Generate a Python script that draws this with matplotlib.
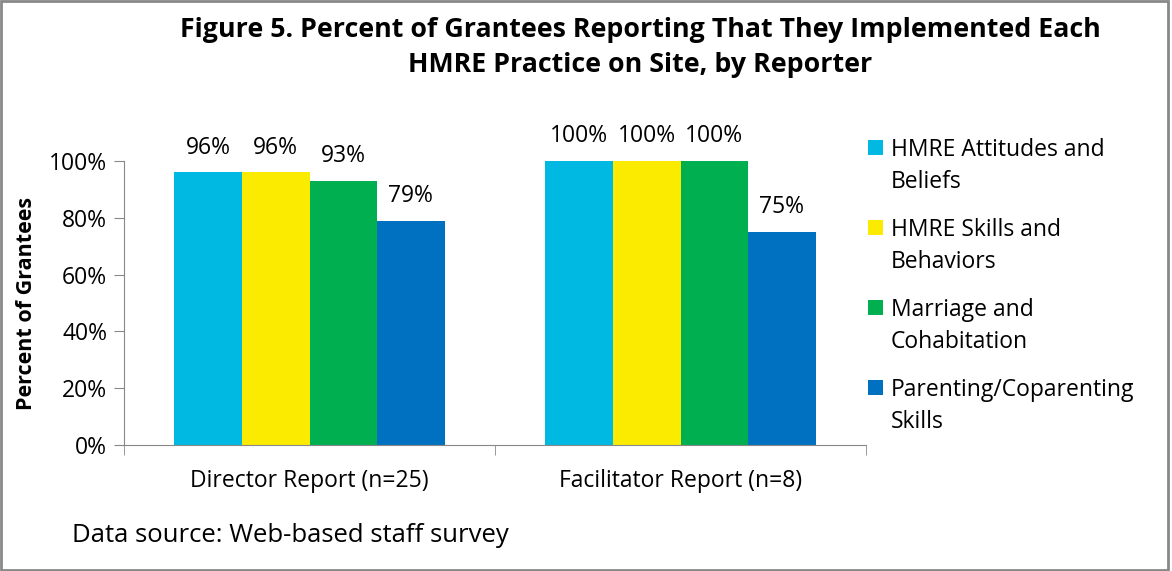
import matplotlib.pyplot as plt
import numpy as np
from matplotlib.patches import Rectangle

plt.rcParams['font.family'] = ['Open Sans', 'DejaVu Sans']

# data
reporters = ['Director Report (n=25)', 'Facilitator Report (n=8)']
practices = ['HMRE Attitudes and\nBeliefs',
             'HMRE Skills and\nBehaviors',
             'Marriage and\nCohabitation',
             'Parenting/Coparenting\nSkills']
colors = ['#00B9E2', '#FAEB00', '#00B050', '#0070C0']
values = [[96, 100],
          [96, 100],
          [93, 100],
          [79, 75]]

W, H = 1172, 571
fig = plt.figure(figsize=(W/100, H/100), dpi=100)
ax = fig.add_axes([124/W, 1-445/H, (866-124)/W, (445-161)/H])

x = np.arange(len(reporters))
width = 0.182
for i, (name, vals) in enumerate(zip(practices, values)):
    pos = x + (i - 1.5) * width
    bars = ax.bar(pos, vals, width, color=colors[i], label=name)
    for b, v in zip(bars, vals):
        ax.text(b.get_x() + b.get_width()/2, v + 4.5, '%d%%' % v,
                ha='center', va='bottom', fontsize=16.5)

ax.set_xlim(-0.5, 1.5)
ax.set_ylim(0, 100)
ax.set_yticks(np.arange(0, 101, 20))
ax.set_yticklabels(['%d%%' % t for t in range(0, 101, 20)], fontsize=16.5)
ax.set_xticks(x)
ax.set_xticklabels(reporters, fontsize=16.5)
ax.set_xticks([-0.5, 0.5, 1.5], minor=True)
ax.tick_params(axis='x', which='major', length=0, pad=17)
ax.tick_params(axis='x', which='minor', length=7, color='#888888', direction='out')
ax.tick_params(axis='y', length=7, color='#888888', direction='out', pad=5)
for s in ['top', 'right']:
    ax.spines[s].set_visible(False)
for s in ['left', 'bottom']:
    ax.spines[s].set_color('#888888')
ax.set_ylabel('Percent of Grantees', fontsize=15.5, fontweight='bold', labelpad=9)

# legend: square marker level with the first line of each label
for i, name in enumerate(practices):
    yc = 148 + 80*i
    fig.patches.append(Rectangle((868/W, 1-(yc+7)/H), 15/W, 15/H,
                                 transform=fig.transFigure,
                                 facecolor=colors[i], edgecolor='none'))
    fig.text(891/W, 1-(yc-10)/H, name, ha='left', va='top',
             fontsize=16.5, linespacing=1.45)

fig.text(640/W, 1-17/H,
         'Figure 5. Percent of Grantees Reporting That They Implemented Each\nHMRE Practice on Site, by Reporter',
         ha='center', va='top', fontsize=19.3, fontweight='bold', linespacing=1.45)
fig.text(72/W, 1-535/H, 'Data source: Web-based staff survey',
         ha='left', va='center', fontsize=18.5)

fig.patches.append(Rectangle((0.001, 0.002), 0.996, 0.996, transform=fig.transFigure,
                             fill=False, edgecolor='#888888', linewidth=2))

fig.savefig('out.png', dpi=100)
